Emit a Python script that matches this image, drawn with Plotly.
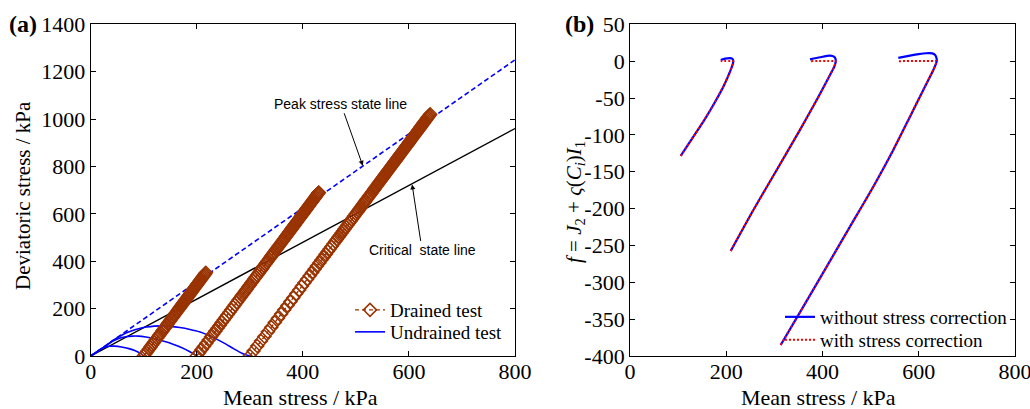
import plotly.graph_objects as go

BROWN = "#993300"
BLUE = "#0000FF"
RED = "#FF0000"
SERIF = "Liberation Serif, Times New Roman, serif"
SANS = "Liberation Sans, Arial, sans-serif"

# ---------------- Panel (a) data ----------------
peak_line_p = [0, 800]
peak_line_q = [0, 1250]
csl_p = [0, 800]
csl_q = [0, 960]

drained1_p = [100, 102.5, 105, 107.5, 110, 112.5, 115, 117.5, 120, 122.5, 125, 127.5, 130, 132.5, 135,
              137, 139, 141, 143, 145, 147, 149, 151, 153, 155, 157, 159, 161, 163, 165, 167, 169,
              170.5, 172, 173.5, 175, 176.5, 178, 179.5, 181, 182.5, 184, 185.5, 187, 188.5, 190, 191.5,
              193, 194.5, 196, 197.5, 199, 200.5, 202, 203.5, 205, 206.5, 208, 209.5, 211, 212.5, 214,
              215.5, 217]
drained1_q = [0, 7.5, 15, 22.5, 30, 37.5, 45, 52.5, 60, 67.5, 75, 82.5, 90, 97.5, 105,
              111, 117, 123, 129, 135, 141, 147, 153, 159, 165, 171, 177, 183, 189, 195, 201, 207,
              211.5, 216, 220.5, 225, 229.5, 234, 238.5, 243, 247.5, 252, 256.5, 261, 265.5, 270, 274.5,
              279, 283.5, 288, 292.5, 297, 301.5, 306, 310.5, 315, 319.5, 324, 328.5, 333, 337.5, 342,
              346.5, 351]

drained2_p = [200, 204.5, 209, 213.5, 218, 222.5, 227, 231, 235, 239, 243, 247, 251, 254.5, 258, 261.5,
              265, 268.5, 272, 275.5, 279, 282, 285, 288, 291, 294, 297, 300, 303, 306, 309, 311.5, 314,
              316.5, 319, 321.5, 324, 326.5, 329, 331.5, 334, 336.5, 339, 341, 343, 345, 347, 349, 351,
              353, 355, 357, 359, 361, 363, 365, 367, 369, 371, 372.5, 374, 375.5, 377, 378.5, 380,
              381.5, 383, 384.5, 386, 387.5, 389, 390.5, 392, 393.5, 395, 396.5, 398, 399.5, 401, 402.5,
              404, 405.5, 407, 408.5, 410, 411.5, 413, 414.5, 416, 417.5, 419, 420.5, 422, 423.5, 425,
              426.5, 428, 429.5, 430]
drained2_q = [0, 13.5, 27, 40.5, 54, 67.5, 81, 93, 105, 117, 129, 141, 153, 163.5, 174, 184.5,
              195, 205.5, 216, 226.5, 237, 246, 255, 264, 273, 282, 291, 300, 309, 318, 327, 334.5, 342,
              349.5, 357, 364.5, 372, 379.5, 387, 394.5, 402, 409.5, 417, 423, 429, 435, 441, 447, 453,
              459, 465, 471, 477, 483, 489, 495, 501, 507, 513, 517.5, 522, 526.5, 531, 535.5, 540,
              544.5, 549, 553.5, 558, 562.5, 567, 571.5, 576, 580.5, 585, 589.5, 594, 598.5, 603, 607.5,
              612, 616.5, 621, 625.5, 630, 634.5, 639, 643.5, 648, 652.5, 657, 661.5, 666, 670.5, 675,
              679.5, 684, 688.5, 690]

drained3_p = [300, 307, 314, 321, 327.5, 334, 340.5, 347, 353, 359, 365, 371, 376.5, 382, 387.5, 393,
              398, 403, 408, 413, 417.5, 422, 426.5, 431, 435, 439, 443, 447, 450.5, 454, 457.5, 461,
              464, 467,
              470, 473, 475.8, 478.6, 481.4, 484.2, 487, 489.6, 492.2, 494.8, 497.4, 500, 502.4, 504.8,
              507.2, 509.6, 512, 514.2, 516.4, 518.6, 520.8, 523, 525, 527, 529, 531, 533, 534.8, 536.6,
              538.4, 540.2, 542, 543.7, 545.4, 547,
              548.5, 550, 551.5, 553, 554.5, 556, 557.5, 559, 560.5, 562, 563.5, 565, 566.5, 568, 569.5,
              571, 572.5, 574, 575.5, 577, 578.5, 580, 581.5, 583, 584.5, 586, 587.5, 589, 590.5, 592,
              593.5, 595, 596.5, 598, 599.5, 601, 602.5, 604, 605.5, 607, 608.5, 610, 611.5, 613, 614.5,
              616, 617.5, 619, 620.5, 622, 623.5, 625, 626.5, 628, 629.5, 631, 632.5, 634, 635.5, 637,
              638.5, 640]
drained3_q = [0, 21, 42, 63, 82.5, 102, 121.5, 141, 159, 177, 195, 213, 229.5, 246, 262.5, 279,
              294, 309, 324, 339, 352.5, 366, 379.5, 393, 405, 417, 429, 441, 451.5, 462, 472.5, 483,
              492, 501,
              510, 519, 527.4, 535.8, 544.2, 552.6, 561, 568.8, 576.6, 584.4, 592.2, 600, 607.2, 614.4,
              621.6, 628.8, 636, 642.6, 649.2, 655.8, 662.4, 669, 675, 681, 687, 693, 699, 704.4, 709.8,
              715.2, 720.6, 726, 731.1, 736.2, 741,
              745.5, 750, 754.5, 759, 763.5, 768, 772.5, 777, 781.5, 786, 790.5, 795, 799.5, 804, 808.5,
              813, 817.5, 822, 826.5, 831, 835.5, 840, 844.5, 849, 853.5, 858, 862.5, 867, 871.5, 876,
              880.5, 885, 889.5, 894, 898.5, 903, 907.5, 912, 916.5, 921, 925.5, 930, 934.5, 939, 943.5,
              948, 952.5, 957, 961.5, 966, 970.5, 975, 979.5, 984, 988.5, 993, 997.5, 1002, 1006.5, 1011,
              1015.5, 1020]

undrained1_p = [100, 93, 84, 72, 58, 45, 35, 26, 18, 10, 0]
undrained1_q = [0, 12, 22, 31, 38, 41.5, 41, 37, 28, 15.5, 0]
undrained2_p = [200, 187, 172, 155, 138, 120, 104, 90, 78, 66, 54, 42, 30, 20, 10, 0]
undrained2_q = [0, 18, 35, 50, 62, 73, 80, 84, 84, 81, 75, 63, 45, 30, 15, 0]
undrained3_p = [300, 285, 270, 255, 240, 222, 205, 187, 168, 150, 135, 120, 105, 90, 75, 60, 45, 30, 15, 0]
undrained3_q = [0, 12, 30, 50, 68, 87, 102, 112, 120, 125, 127, 126, 122, 115, 104, 90, 70, 46, 23, 0]

# ---------------- Panel (b) data ----------------
f1_raw_p = [105.3, 124.7, 152.3, 173, 193.9, 207.8, 214, 214.5, 212.5, 207.8, 197.4, 188.4]
f1_raw_f = [-128.6, -109.2, -82, -59.4, -34.6, -14.2, -3, 0.5, 3.2, 4.2, 3.4, 1.6]
f1_cor_p = [105.3, 124.7, 152.3, 173, 193.9, 207.8, 214, 214.5, 188.4]
f1_cor_f = [-128.6, -109.2, -82, -59.4, -34.6, -14.2, -3, 0, 0]

f2_raw_p = [209.2, 256.3, 304.8, 353.2, 387.9, 412, 424.5, 427.4, 427, 424.5, 415.6, 394.8, 374]
f2_raw_f = [-257.5, -201.9, -147.6, -93.3, -52.6, -23.2, -7.5, -0.6, 3, 5.8, 7.5, 5.3, 2.5]
f2_cor_p = [209.2, 256.3, 304.8, 353.2, 387.9, 412, 424.5, 427.4, 427.6, 374]
f2_cor_f = [-257.5, -201.9, -147.6, -93.3, -52.6, -23.2, -7.5, -0.6, 0, 0]

f3_raw_p = [313.1, 360.1, 408.7, 457.1, 505.5, 547.1, 581.8, 609.5, 630.3, 637.3, 637, 634, 628.2,
            615, 600, 581.8, 557.5]
f3_raw_f = [-385, -333, -278.8, -224.5, -170.3, -120.5, -75.3, -39, -12, -0.6, 4, 8.5, 10.5,
            10.7, 9.5, 7.5, 4.5]
f3_cor_p = [313.1, 360.1, 408.7, 457.1, 505.5, 547.1, 581.8, 609.5, 630.3, 637.3, 637.5, 557.5]
f3_cor_f = [-385, -333, -278.8, -224.5, -170.3, -120.5, -75.3, -39, -12, -0.6, 0, 0]

x_ticks = [0, 200, 400, 600, 800]
ya_ticks = [0, 200, 400, 600, 800, 1000, 1200, 1400]
yb_ticks = [-400, -350, -300, -250, -200, -150, -100, -50, 0, 50]

fig = go.Figure()

# reference lines
fig.add_trace(go.Scatter(x=peak_line_p, y=peak_line_q, mode="lines", showlegend=False,
                         line=dict(color=BLUE, width=1.6, dash="5px,3px"), xaxis="x", yaxis="y"))
fig.add_trace(go.Scatter(x=csl_p, y=csl_q, mode="lines", showlegend=False,
                         line=dict(color="black", width=1.4), xaxis="x", yaxis="y"))

# undrained
for i, (up, uq) in enumerate([(undrained1_p, undrained1_q), (undrained2_p, undrained2_q),
                              (undrained3_p, undrained3_q)]):
    fig.add_trace(go.Scatter(x=up, y=uq, mode="lines", name="Undrained test",
                             showlegend=(i == 0), legend="legend2",
                             line=dict(color=BLUE, width=1.6, shape="spline", smoothing=0.8),
                             xaxis="x", yaxis="y"))

# drained
for i, (dp, dq) in enumerate([(drained1_p, drained1_q), (drained2_p, drained2_q),
                              (drained3_p, drained3_q)]):
    n = min(len(dp), len(dq))
    fig.add_trace(go.Scatter(x=dp[:n], y=dq[:n], mode="lines+markers", name="Drained test",
                             showlegend=(i == 0), legend="legend",
                             line=dict(color=BROWN, width=1.4, dash="4px,3px"),
                             marker=dict(symbol="diamond-open", size=10, color=BROWN,
                                         line=dict(color=BROWN, width=1.5)),
                             xaxis="x", yaxis="y"))

# panel b
for i, (rp, rf) in enumerate([(f1_raw_p, f1_raw_f), (f2_raw_p, f2_raw_f), (f3_raw_p, f3_raw_f)]):
    fig.add_trace(go.Scatter(x=rp, y=rf, mode="lines", name="without stress correction",
                             showlegend=(i == 0), legend="legend3",
                             line=dict(color=BLUE, width=2.2, shape="spline", smoothing=0.6),
                             xaxis="x2", yaxis="y2"))
for i, (cp, cf) in enumerate([(f1_cor_p, f1_cor_f), (f2_cor_p, f2_cor_f), (f3_cor_p, f3_cor_f)]):
    fig.add_trace(go.Scatter(x=cp, y=cf, mode="lines", name="with stress correction",
                             showlegend=(i == 0), legend="legend4",
                             line=dict(color=RED, width=2, dash="2px,2px", shape="spline", smoothing=0.3),
                             xaxis="x2", yaxis="y2"))

axis_common = dict(showline=True, linecolor="black", linewidth=1, mirror="ticks",
                   ticks="inside", ticklen=5, tickcolor="black", tickwidth=1,
                   showgrid=False, zeroline=False, automargin=False,
                   ticklabeloverflow="allow",
                   tickfont=dict(family=SERIF, size=22, color="black"))


def leg(x_px, y_px):
    return dict(x=x_px / 1030, y=1 - y_px / 409, xanchor="left", yanchor="middle",
                bgcolor="rgba(0,0,0,0)", borderwidth=0, itemwidth=30,
                font=dict(family=SERIF, size=19, color="black"))


dom_y = [0.1296, 0.9406]
fig.update_layout(
    template="none",
    width=1030, height=409,
    margin=dict(l=0, r=0, t=0, b=0, autoexpand=False),
    paper_bgcolor="white", plot_bgcolor="white",
    xaxis=dict(domain=[0.0881, 0.5], range=[0, 800], tickvals=x_ticks, anchor="y",
               ticklabelstandoff=-4, **axis_common),
    yaxis=dict(domain=dom_y, range=[0, 1400], tickvals=ya_ticks, anchor="x", **axis_common),
    xaxis2=dict(domain=[0.6117, 0.9854], range=[0, 800], tickvals=x_ticks, anchor="y2",
                ticklabelstandoff=-4, **axis_common),
    yaxis2=dict(domain=dom_y, range=[-400, 50], tickmode="array", tickvals=yb_ticks,
                ticktext=[str(v) for v in yb_ticks], anchor="x2", **axis_common),
    legend=leg(350, 310),
    legend2=leg(350, 332),
    legend3=leg(780, 317),
    legend4=leg(780, 340),
)

ann = []
ann.append(dict(text="<b>(a)</b>", xref="paper", yref="paper", x=23 / 1030, y=1 - 24 / 409,
                xanchor="center", yanchor="middle", showarrow=False,
                font=dict(family=SERIF, size=24, color="black")))
ann.append(dict(text="<b>(b)</b>", xref="paper", yref="paper", x=579 / 1030, y=1 - 24 / 409,
                xanchor="center", yanchor="middle", showarrow=False,
                font=dict(family=SERIF, size=24, color="black")))
ann.append(dict(text="Mean stress / kPa", xref="paper", yref="paper", x=300 / 1030, y=1 - 397 / 409,
                xanchor="center", yanchor="middle", showarrow=False,
                font=dict(family=SERIF, size=22, color="black")))
ann.append(dict(text="Mean stress / kPa", xref="paper", yref="paper", x=818 / 1030, y=1 - 397 / 409,
                xanchor="center", yanchor="middle", showarrow=False,
                font=dict(family=SERIF, size=22, color="black")))
ann.append(dict(text="Deviatoric stress / kPa", xref="paper", yref="paper", x=23 / 1030, y=1 - 196 / 409,
                xanchor="center", yanchor="middle", showarrow=False, textangle=-90,
                font=dict(family=SERIF, size=21, color="black")))
ann.append(dict(text="<i>f</i> = <i>J</i><sub>2</sub> + <i>ς</i>(<i>C<sub>i</sub></i>)<i>I</i><sub>1</sub>",
                xref="paper", yref="paper", x=575 / 1030, y=1 - 202 / 409,
                xanchor="center", yanchor="middle", showarrow=False, textangle=-90,
                font=dict(family=SERIF, size=21, color="black")))
ann.append(dict(text="Peak stress state line", xref="x", yref="y", x=513, y=803,
                ax=-22, ay=-62, showarrow=True, arrowhead=2, arrowsize=1, arrowwidth=1,
                arrowcolor="black", standoff=0,
                font=dict(family=SANS, size=14, color="black")))
ann.append(dict(text="Critical  state line", xref="x", yref="y", x=606, y=724,
                ax=10, ay=66, showarrow=True, arrowhead=2, arrowsize=1, arrowwidth=1,
                arrowcolor="black", standoff=0,
                font=dict(family=SANS, size=14, color="black")))
fig.update_layout(annotations=ann)

fig.write_html("out.html")
